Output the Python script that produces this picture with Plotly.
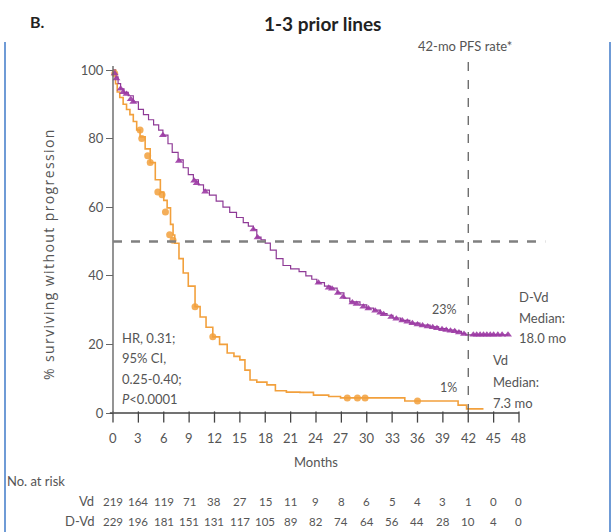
import plotly.graph_objects as go

# ---- Kaplan-Meier PFS, 1-3 prior lines ----
dvd_t = [0, 0.3, 0.6, 0.9, 1.3, 1.8, 2.4, 3.0, 3.6, 4.2, 4.8, 5.4, 5.9, 6.5, 7.0, 7.7,
         8.3, 8.9, 9.5, 10.1, 10.7, 11.4, 12.2, 13.0, 13.8, 14.6, 15.4, 16.0, 16.6,
         17.0, 17.5, 18.0, 18.6, 19.3, 20.1, 21.0, 22.0, 22.8, 23.5, 24.1, 25.0, 25.7,
         26.5, 27.3, 28.0, 29.2, 30.0, 30.8, 31.6, 32.4, 33.1, 34.0, 35.1, 36.3, 37.5,
         38.5, 39.5, 40.5, 41.2, 41.7, 46.7]
dvd_s = [100, 98, 96, 94.5, 93.5, 92.5, 90.7, 88.5, 87, 85.5, 84, 82.5, 81, 78.5, 76, 73.8,
         71.5, 69.5, 68, 66.5, 65, 63.5, 61.8, 60, 58.5, 57, 55.5, 54.5, 53.5,
         51.3, 50.5, 49.5, 47.5, 45, 43, 42, 41.2, 40, 39, 38, 37, 36.4,
         35, 33.5, 32.4, 31.5, 30.6, 30, 29, 28.5, 27.7, 27, 26.2, 25.6, 25.1,
         24.6, 24.2, 23.8, 23.2, 22.8, 22.8]

vd_t = [0, 0.3, 0.5, 0.8, 1.2, 1.6, 2.0, 2.4, 2.8, 3.2, 3.8, 4.4, 5.0, 5.6, 6.0, 6.4, 6.8,
        7.1, 7.3, 7.8, 8.3, 8.9, 9.7, 10.3, 11.0, 11.8, 12.6, 13.5, 14.3, 15.0, 15.6,
        16.2, 17.0, 18.2, 19.2, 20.5, 22.1, 23.7, 25.5, 26.9, 34.5, 40.8, 41.8, 43.8]
vd_s = [100, 96, 93.6, 92, 90, 88.5, 87, 85, 82.5, 80.5, 77, 73, 68, 64.4, 62, 59.8, 55,
        51.9, 49.5, 45, 40.8, 37, 31, 28, 25, 22.2, 20, 17.5, 16.5, 15.5, 12.5,
        9.6, 9.0, 8.2, 6.5, 6.1, 6.0, 5.2, 4.8, 4.4, 3.5, 2.3, 1.2, 1.2]

# censored observations
dvd_cens_t = [0.2, 0.4, 0.9, 1.2, 1.6, 2.1, 2.4, 5.9, 7.8, 9.6, 9.9, 10.9, 16.6, 17.1,
              24.3, 25.5, 25.9, 26.6, 27.2, 28.3, 28.8, 29.6, 30.2, 31.0, 31.6, 32.0,
              32.9, 33.5, 34.2, 34.8, 35.4, 36.0, 36.6, 37.2, 37.8, 38.3, 38.9, 39.4,
              39.9, 40.4, 40.9, 41.5, 42.6, 43.0, 43.4, 43.8, 44.2, 44.6, 45.0, 45.5,
              46.0, 46.7]
dvd_cens_s = [99, 97.5, 94.5, 93.5, 93, 91.5, 90.7, 81, 73.5, 67.7, 67, 64.5, 53.5, 51.2,
              38, 36.5, 36.2, 35, 33.8, 32.2, 31.8, 31, 30.5, 29.8, 29.2, 28.8,
              28, 27.5, 27, 26.6, 26.2, 25.8, 25.5, 25.2, 25, 24.7, 24.4, 24.2,
              24, 23.8, 23.5, 23, 22.8, 22.8, 22.8, 22.8, 22.8, 22.8, 22.8, 22.8,
              22.8, 22.8]

vd_cens_t = [0.2, 3.2, 3.4, 4.1, 4.4, 5.3, 5.8, 6.2, 6.7, 7.1, 9.7, 11.8, 27.7, 28.9, 29.8, 36.0]
vd_cens_s = [99, 82.5, 80, 75, 73, 64.4, 63.6, 58.6, 52, 50.4, 31, 22.2, 4.4, 4.4, 4.4, 3.5]

# number at risk
risk_months = list(range(0, 49, 3))
risk_vd = [219, 164, 119, 71, 38, 27, 15, 11, 9, 8, 6, 5, 4, 3, 1, 0, 0]
risk_dvd = [229, 196, 181, 151, 131, 117, 105, 89, 82, 74, 64, 56, 44, 28, 10, 4, 0]
y_ticks = [0, 20, 40, 60, 80, 100]

PURPLE = "#8E3A96"
PURPLE_MK = "#9C3AA4"
ORANGE = "#F2A03C"
GRAY = "#555555"
FONT = "Lato"

W, H = 615, 532
# pixel geometry of the plot
X0_PX, X48_PX = 113.0, 519.0
Y0_PX, Y100_PX = 413.0, 70.0
px_per_m = (X48_PX - X0_PX) / 48.0
px_per_pct = (Y0_PX - Y100_PX) / 100.0
XMIN, XMAX = -0.4, 51.5
YMIN, YMAX = -4.0, 104.0
xl = X0_PX + XMIN * px_per_m
xr = X0_PX + XMAX * px_per_m
yb = Y0_PX - YMIN * px_per_pct
yt = Y0_PX - YMAX * px_per_pct
TICK_PX = 8


def xm(px):
    return (px - X0_PX) / px_per_m


def yv(py):
    return (Y0_PX - py) / px_per_pct


def yp(py):
    return 1 - py / H


fig = go.Figure()

fig.add_trace(go.Scatter(x=vd_t, y=vd_s, mode="lines", line=dict(color=ORANGE, width=1.6, shape="hv"),
                         cliponaxis=False, showlegend=False, hoverinfo="skip"))
fig.add_trace(go.Scatter(x=dvd_t, y=dvd_s, mode="lines", line=dict(color=PURPLE, width=1.2, shape="hv"),
                         cliponaxis=False, showlegend=False, hoverinfo="skip"))
fig.add_trace(go.Scatter(x=vd_cens_t, y=vd_cens_s, mode="markers",
                         marker=dict(symbol="circle", size=7, color=ORANGE, opacity=0.85),
                         cliponaxis=False, showlegend=False, hoverinfo="skip"))
fig.add_trace(go.Scatter(x=dvd_cens_t, y=dvd_cens_s, mode="markers",
                         marker=dict(symbol="triangle-up", size=7, color=PURPLE_MK, opacity=0.9),
                         cliponaxis=False, showlegend=False, hoverinfo="skip"))
# x tick marks hanging below the axis line
fig.add_trace(go.Scatter(x=risk_months, y=[-TICK_PX / 2 / px_per_pct] * len(risk_months), mode="markers",
                         marker=dict(symbol="line-ns", size=TICK_PX, line=dict(color="#444444", width=1.3)),
                         cliponaxis=False, showlegend=False, hoverinfo="skip"))

shapes = [
    # x axis line
    dict(type="line", xref="x", yref="y", x0=XMIN, x1=48, y0=0, y1=0,
         line=dict(color="#444444", width=1.6)),
    # y axis line
    dict(type="line", xref="x", yref="y", x0=0, x1=0, y0=0, y1=101.2,
         line=dict(color="#666666", width=1.4)),
    # median reference line
    dict(type="line", xref="x", yref="y", x0=0, x1=51.1, y0=50, y1=50,
         line=dict(color="#808080", width=2.6, dash="dash")),
    # 42-month marker
    dict(type="line", xref="x", yref="y", x0=42, x1=42, y0=0, y1=103,
         line=dict(color="#555555", width=1.2, dash="dash")),
    # panel frame
    dict(type="line", xref="paper", yref="paper", x0=5 / W, x1=5 / W, y0=0, y1=yp(42),
         line=dict(color="#6F9BD6", width=2)),
    dict(type="line", xref="paper", yref="paper", x0=610 / W, x1=610 / W, y0=0, y1=yp(42),
         line=dict(color="#6F9BD6", width=2)),
]

ann = []


def text(x, y, s, size=12.5, color=GRAY, xanchor="center", xref="x", yref="y", bold=False, family=FONT, **kw):
    ann.append(dict(x=x, y=y, xref=xref, yref=yref, text=(f"<b>{s}</b>" if bold else s),
                    showarrow=False, xanchor=xanchor, yanchor="middle",
                    font=dict(family=family, size=size, color=color), **kw))


text(37 / W, yp(22), "B.", size=16, color="#222222", xref="paper", yref="paper", bold=True)
text(322 / W, yp(23), "1-3 prior lines", size=19, color="#222222", xref="paper", yref="paper", bold=True)
text(465 / W, yp(46), "42-mo PFS rate*", size=13, xref="paper", yref="paper")
text(xm(459), yv(310), "23%", size=12.5, xanchor="right")
text(xm(459), yv(387), "1%", size=12.5, xanchor="right")
for i, s in enumerate(["D-Vd", "Median:", "18.0 mo"]):
    text(xm(517), yv(297 + 20.5 * i), s, size=13, xanchor="left")
for i, s in enumerate(["Vd", "Median:", "7.3 mo"]):
    text(xm(491), yv(360 + 21.5 * i), s, size=13, xanchor="left")
for i, s in enumerate(["HR, 0.31;", "95% CI,", "0.25-0.40;", "<i>P</i><0.0001"]):
    text(xm(120), yv(338 + 20.3 * i), s, size=13, xanchor="left")

# x tick labels
for m in risk_months:
    text(m, 0, str(m), size=13, yshift=-(438 - Y0_PX))

# x axis title
text(xm(316), 0, "Months", size=13, yshift=-(462 - Y0_PX))
# y axis title
ann.append(dict(x=48 / W, y=yp(254), xref="paper", yref="paper",
                text='<span style="letter-spacing:1.4px">% surviving without progression</span>',
                showarrow=False, textangle=-90, xanchor="center", yanchor="middle",
                font=dict(family="Open Sans", size=14, color=GRAY)))

# number-at-risk table
text(5 / W, yp(481), "No. at risk", size=13, xref="paper", yref="paper", xanchor="left")
text(96 / W, yp(501), "Vd", size=13, xref="paper", yref="paper", xanchor="right")
text(96 / W, yp(521), "D-Vd", size=13, xref="paper", yref="paper", xanchor="right")
for m, a, b in zip(risk_months, risk_vd, risk_dvd):
    text(m, 0, str(a), size=11.5, yshift=-(501 - Y0_PX))
    text(m, 0, str(b), size=11.5, yshift=-(521 - Y0_PX))

fig.update_layout(
    width=W, height=H,
    margin=dict(l=0, r=0, t=0, b=0, autoexpand=False),
    paper_bgcolor="white", plot_bgcolor="white",
    shapes=shapes, annotations=ann,
    xaxis=dict(range=[XMIN, XMAX], domain=[xl / W, xr / W],
               showticklabels=False, ticks="",
               showline=False, showgrid=False, zeroline=False),
    yaxis=dict(range=[YMIN, YMAX], domain=[1 - yb / H, 1 - yt / H], tickvals=y_ticks,
               anchor="free", position=X0_PX / W,
               ticks="outside", ticklen=7, tickwidth=1.2, tickcolor="#666666",
               showline=False, showgrid=False, zeroline=False,
               tickfont=dict(family=FONT, size=13, color=GRAY)),
)

fig.write_html("out.html")
